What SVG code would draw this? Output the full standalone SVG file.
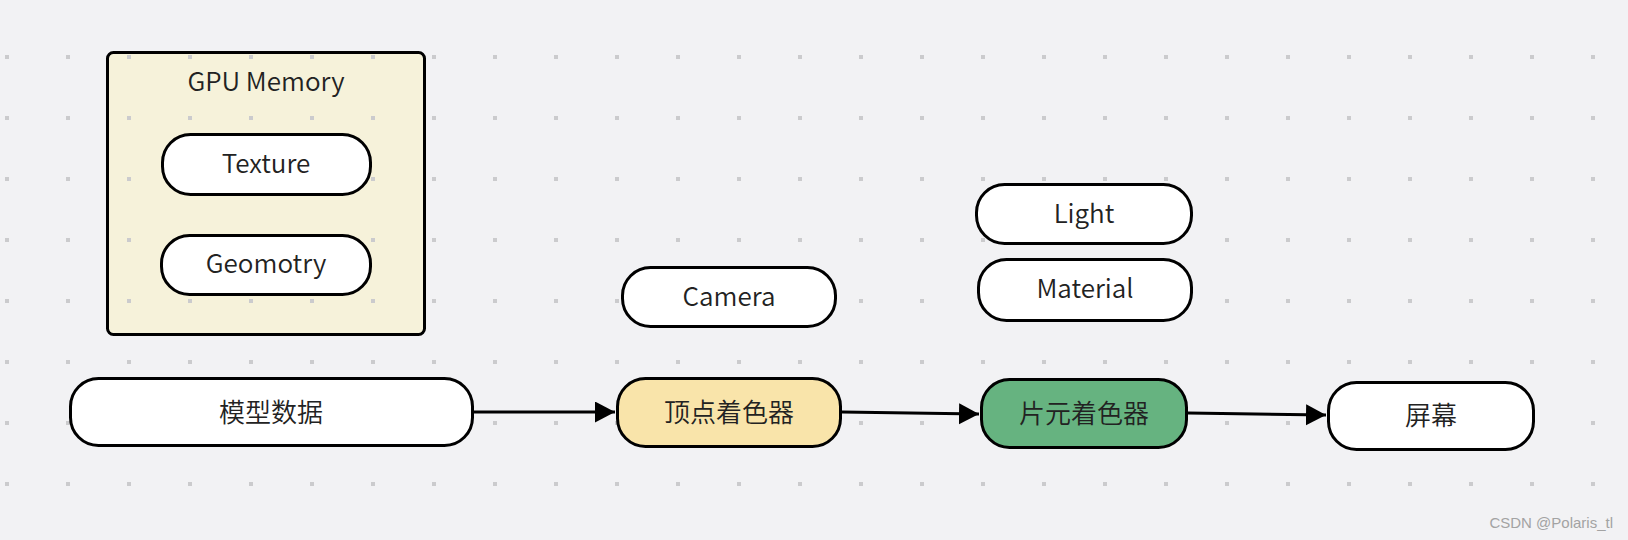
<svg xmlns="http://www.w3.org/2000/svg" width="1628" height="540" viewBox="0 0 1628 540">
  <defs>
    <pattern id="dots" x="5" y="55" width="61" height="61" patternUnits="userSpaceOnUse">
      <rect x="0" y="0" width="4" height="4" fill="#cbcbcd"/>
    </pattern>
    <marker id="arrow" markerUnits="userSpaceOnUse" markerWidth="22" markerHeight="22" refX="20" refY="10.5" orient="auto">
      <path d="M0,0 L20,10.5 L0,21 Z" fill="#000"/>
    </marker>
  </defs>
  <style>
    .node { stroke: #000; stroke-width: 3; }
    .pill { fill: #fff; }
    .lbl { font-family: "Noto Sans CJK SC", "Noto Sans", sans-serif; font-size: 26px; font-weight: 350; fill: #222; text-anchor: middle; }
    .edge { stroke: #000; stroke-width: 3; fill: none; marker-end: url(#arrow); }
  </style>
  <rect x="0" y="0" width="1628" height="540" fill="#f2f2f4"/>

  <g id="gpu-memory">
    <rect class="node" x="107.5" y="52.5" width="317" height="282" rx="6" fill="#f6f2da"/>
    <text class="lbl" x="266" y="91">GPU Memory</text>
  </g>
  <rect x="0" y="0" width="1628" height="540" fill="url(#dots)"/>
  <g id="texture">
    <rect class="node pill" x="162.5" y="134.5" width="208" height="60" rx="28"/>
    <text class="lbl" x="266" y="173">Texture</text>
  </g>
  <g id="geomotry">
    <rect class="node pill" x="161.5" y="235.5" width="209" height="59" rx="28"/>
    <text class="lbl" x="266" y="273">Geomotry</text>
  </g>
  <g id="model-data">
    <rect class="node pill" x="70.5" y="378.5" width="402" height="67" rx="28"/>
    <text class="lbl" x="271" y="422">模型数据</text>
  </g>
  <g id="vertex-shader">
    <rect class="node" x="617.5" y="378.5" width="223" height="68" rx="28" fill="#f9e4aa"/>
    <text class="lbl" x="729" y="422">顶点着色器</text>
  </g>
  <g id="camera">
    <rect class="node pill" x="622.5" y="267.5" width="213" height="59" rx="28"/>
    <text class="lbl" x="729" y="306">Camera</text>
  </g>
  <g id="light">
    <rect class="node pill" x="976.5" y="184.5" width="215" height="59" rx="28"/>
    <text class="lbl" x="1084" y="223">Light</text>
  </g>
  <g id="material">
    <rect class="node pill" x="978.5" y="259.5" width="213" height="61" rx="28"/>
    <text class="lbl" x="1085" y="298">Material</text>
  </g>
  <g id="fragment-shader">
    <rect class="node" x="981.5" y="379.5" width="205" height="68" rx="28" fill="#66b380"/>
    <text class="lbl" x="1084" y="423">片元着色器</text>
  </g>
  <g id="screen">
    <rect class="node pill" x="1328.5" y="382.5" width="205" height="67" rx="28"/>
    <text class="lbl" x="1431" y="425">屏幕</text>
  </g>

  <g id="connectors">
    <line class="edge" x1="474" y1="412" x2="615" y2="412"/>
    <line class="edge" x1="842" y1="412" x2="979" y2="414"/>
    <line class="edge" x1="1188" y1="413" x2="1326" y2="415"/>
  </g>

  <text x="1613" y="528" font-family="Liberation Sans, Arial, sans-serif" font-size="15" fill="#a3a3a3" text-anchor="end">CSDN @Polaris_tl</text>
</svg>
